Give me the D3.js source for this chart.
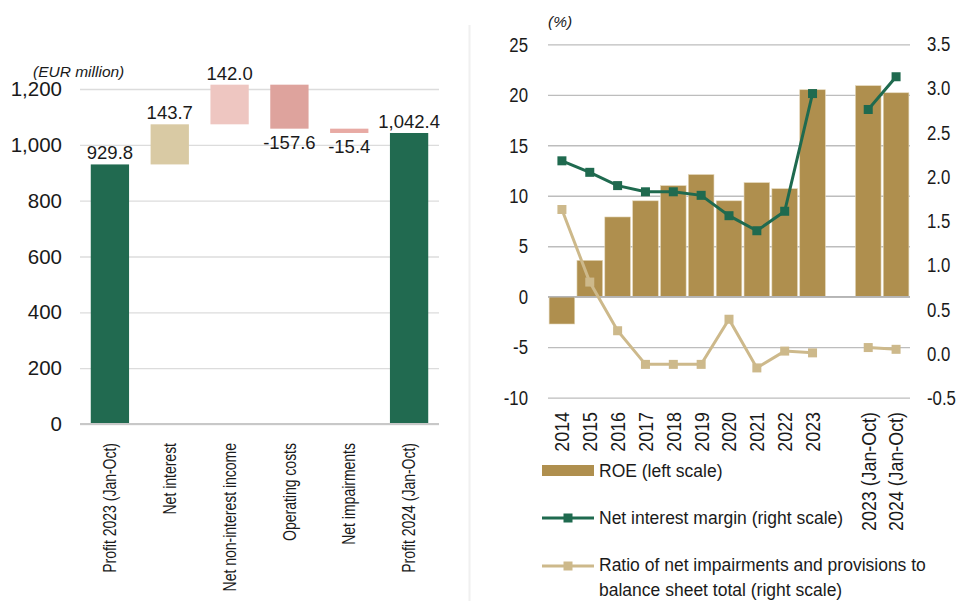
<!DOCTYPE html>
<html>
<head>
<meta charset="utf-8">
<script src="https://cdn.jsdelivr.net/npm/d3@7"></script>
<style>
  body { margin: 0; background: #fff; }
  text { font-family: Arial, "Liberation Sans", sans-serif; fill: #1a1a1a; }
</style>
</head>
<body>
<svg id="chart" width="959" height="601"></svg>
<script>
// left panel: change in profit (EUR million)
const steps = ["Profit 2023 (Jan-Oct)", "Net interest", "Net non-interest income", "Operating costs", "Net impairments", "Profit 2024 (Jan-Oct)"];
const stepValues = [929.8, 143.7, 142.0, -157.6, -15.4, 1042.4];
const stepLabels = ["929.8", "143.7", "142.0", "-157.6", "-15.4", "1,042.4"];
const stepColors = ["#216a50", "#d9caa4", "#eec6c1", "#dea39d", "#e8aaa4", "#216a50"];
const profitTicks = [0, 200, 400, 600, 800, 1000, 1200];

// right panel: profitability indicators (%)
const periods = ["2014", "2015", "2016", "2017", "2018", "2019", "2020", "2021", "2022", "2023", "gap", "2023 (Jan-Oct)", "2024 (Jan-Oct)"];
const roe = [-2.7, 3.6, 7.9, 9.5, 11.0, 12.1, 9.5, 11.3, 10.7, 20.5, null, 20.9, 20.2];
const nim = [2.18, 2.05, 1.90, 1.83, 1.83, 1.79, 1.56, 1.39, 1.61, 2.94, null, 2.76, 3.13];
const impairRatio = [1.63, 0.81, 0.26, -0.12, -0.12, -0.12, 0.39, -0.16, 0.03, 0.01, null, 0.07, 0.05];
const leftTicks = [-10, -5, 0, 5, 10, 15, 20, 25];
const rightTicks = [-0.5, 0, 0.5, 1, 1.5, 2, 2.5, 3, 3.5];
const legendNames = ["ROE (left scale)", "Net interest margin (right scale)", "Ratio of net impairments and provisions to|balance sheet total (right scale)"];

const roeColor = "#af8f4e", nimColor = "#1f6a4f", impColor = "#cdb98b";
const squeeze = 0.8; // the source uses a condensed face for some labels
const svg = d3.select("#chart");

// separator between panels
svg.append("line").attr("x1", 469.5).attr("x2", 469.5).attr("y1", 25).attr("y2", 601)
  .attr("stroke", "#f0f0f0").attr("stroke-width", 2);

// ---------- left: waterfall ----------
const yL = d3.scaleLinear().domain([0, 1200]).range([424, 89]);
const xL = d3.scaleBand().domain(steps).range([80, 439]).paddingInner(0.36).paddingOuter(0.18);

const gridL = svg.append("g").attr("transform", "translate(80,0)")
  .call(d3.axisLeft(yL).tickValues(profitTicks).tickSize(-(439 - 80)).tickPadding(18).tickFormat(d3.format(",")));
gridL.select(".domain").remove();
gridL.selectAll(".tick line").attr("stroke", "#dcdcdc").attr("stroke-width", 1.3);
gridL.selectAll(".tick text").attr("font-size", 20.5).attr("fill", "#1a1a1a");

// running totals
let run = 0;
const wf = stepValues.map((v, i) => {
  let y0, y1;
  if (i === 0 || i === stepValues.length - 1) { y0 = 0; y1 = v; run = v; }
  else { y0 = run; y1 = run + v; run = y1; }
  return { name: steps[i], y0, y1, v, label: stepLabels[i], color: stepColors[i] };
});

svg.append("g").selectAll("rect").data(wf).enter().append("rect")
  .attr("x", d => xL(d.name))
  .attr("width", xL.bandwidth())
  .attr("y", d => yL(Math.max(d.y0, d.y1)))
  .attr("height", d => Math.max(2, Math.abs(yL(d.y0) - yL(d.y1))))
  .attr("fill", d => d.color);

svg.append("g").selectAll("text").data(wf).enter().append("text")
  .attr("x", d => xL(d.name) + xL.bandwidth() / 2)
  .attr("y", d => d.v >= 0 ? yL(Math.max(d.y0, d.y1)) - 5 : yL(Math.min(d.y0, d.y1)) + 20)
  .attr("text-anchor", "middle")
  .attr("font-size", 18.5)
  .text(d => d.label);

svg.append("line").attr("x1", 80).attr("x2", 439).attr("y1", yL(0)).attr("y2", yL(0))
  .attr("stroke", "#c8c8c8").attr("stroke-width", 2);

const axL = svg.append("g").attr("transform", `translate(0,${yL(0)})`)
  .call(d3.axisBottom(xL).tickSize(0));
axL.select(".domain").remove();
axL.selectAll(".tick text")
  .attr("transform", `rotate(-90) scale(${squeeze},1)`)
  .attr("text-anchor", "end")
  .attr("x", -19 / squeeze).attr("y", 0).attr("dy", "0.35em")
  .attr("font-size", 17.5);

svg.append("text").attr("x", 33).attr("y", 77).attr("font-size", 15.5)
  .attr("font-style", "italic").text("(EUR million)");

// ---------- right: ROE / NIM / impairments ----------
const xR = d3.scaleBand().domain(periods).range([548, 910]).paddingInner(0.08).paddingOuter(0.04);
const yR1 = d3.scaleLinear().domain([-10, 25]).range([397.7, 44.3]);
const yR2 = d3.scaleLinear().domain([-0.5, 3.5]).range([398, 44]);
const fmt1 = d => d.toFixed(1);

const gridR = svg.append("g").attr("transform", "translate(548,0)")
  .call(d3.axisLeft(yR1).tickValues(leftTicks).tickSize(-(910 - 548)).tickPadding(20).tickFormat(d => String(d)));
gridR.select(".domain").remove();
gridR.selectAll(".tick line").attr("stroke", "#bdbdbd").attr("stroke-width", 1.3);
gridR.selectAll(".tick text").attr("font-size", 21).attr("fill", "#1a1a1a")
  .attr("transform", `scale(${squeeze},1)`).attr("x", -20 / squeeze);

const axR2 = svg.append("g").attr("transform", "translate(910,0)")
  .call(d3.axisRight(yR2).tickValues(rightTicks).tickSize(0).tickPadding(17).tickFormat(fmt1));
axR2.select(".domain").remove();
axR2.selectAll(".tick text").attr("font-size", 21).attr("fill", "#1a1a1a")
  .attr("transform", `scale(${squeeze},1)`).attr("x", 17 / squeeze);

const roeData = periods.map((p, i) => ({ p, v: roe[i] })).filter(d => d.v !== null);
svg.append("g").selectAll("rect").data(roeData).enter().append("rect")
  .attr("x", d => xR(d.p))
  .attr("width", xR.bandwidth())
  .attr("y", d => yR1(Math.max(0, d.v)))
  .attr("height", d => Math.abs(yR1(d.v) - yR1(0)))
  .attr("fill", roeColor)
  .attr("stroke", "#e3d6b8").attr("stroke-width", 0.6);

// zero line over bars
svg.append("line").attr("x1", 548).attr("x2", 910).attr("y1", yR1(0)).attr("y2", yR1(0))
  .attr("stroke", "#b5b5b5").attr("stroke-width", 1.3);

const cx = p => xR(p) + xR.bandwidth() / 2;
function drawSeries(values, color) {
  const pts = periods.map((p, i) => ({ p, v: values[i] }));
  const line = d3.line().defined(d => d.v !== null).x(d => cx(d.p)).y(d => yR2(d.v));
  svg.append("path").datum(pts).attr("d", line)
    .attr("fill", "none").attr("stroke", color).attr("stroke-width", 3);
  svg.append("g").selectAll("rect").data(pts.filter(d => d.v !== null)).enter().append("rect")
    .attr("x", d => cx(d.p) - 4.5).attr("y", d => yR2(d.v) - 4.5)
    .attr("width", 9).attr("height", 9).attr("fill", color);
}
drawSeries(impairRatio, impColor);
drawSeries(nim, nimColor);

const sq2 = 0.85;
const axRx = svg.append("g").attr("transform", "translate(0,398)")
  .call(d3.axisBottom(xR).tickSize(0).tickFormat(d => d === "gap" ? "" : d));
axRx.select(".domain").remove();
axRx.selectAll(".tick text")
  .attr("transform", `rotate(-90) scale(${sq2},1)`)
  .attr("text-anchor", "end")
  .attr("x", -14 / sq2).attr("y", 0).attr("dy", "0.35em")
  .attr("font-size", 21);

svg.append("text").attr("x", 548).attr("y", 27).attr("font-size", 15.5)
  .attr("font-style", "italic").text("(%)");

// legend
const lg = svg.append("g");
lg.append("rect").attr("x", 542).attr("y", 465).attr("width", 52).attr("height", 11).attr("fill", roeColor);
lg.append("text").attr("x", 599).attr("y", 471).attr("dy", "0.35em").attr("font-size", 17.5).text(legendNames[0]);

lg.append("line").attr("x1", 542).attr("x2", 594).attr("y1", 518).attr("y2", 518).attr("stroke", nimColor).attr("stroke-width", 3);
lg.append("rect").attr("x", 563.5).attr("y", 513.5).attr("width", 9).attr("height", 9).attr("fill", nimColor);
lg.append("text").attr("x", 599).attr("y", 518).attr("dy", "0.35em").attr("font-size", 17.5).text(legendNames[1]);

lg.append("line").attr("x1", 542).attr("x2", 594).attr("y1", 566).attr("y2", 566).attr("stroke", impColor).attr("stroke-width", 3);
lg.append("rect").attr("x", 563.5).attr("y", 561.5).attr("width", 9).attr("height", 9).attr("fill", impColor);
legendNames[2].split("|").forEach((t, i) => {
  lg.append("text").attr("x", 599).attr("y", 565 + i * 25).attr("dy", "0.35em").attr("font-size", 17.5).text(t);
});
</script>
</body>
</html>
